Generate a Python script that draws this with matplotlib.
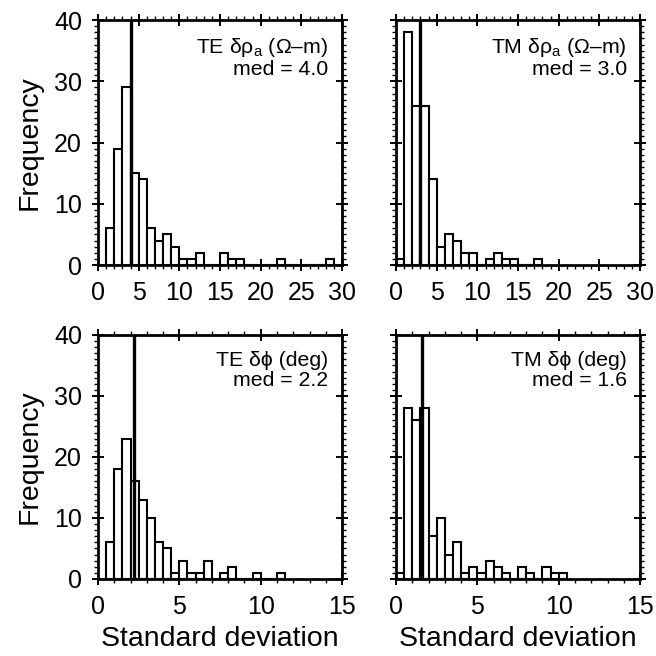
import numpy as np
import matplotlib
matplotlib.use("Agg")
import matplotlib.pyplot as plt
from matplotlib.ticker import MultipleLocator

plt.rcParams["font.family"] = ["Liberation Sans", "DejaVu Sans"]
plt.rcParams["mathtext.fontset"] = "custom"
plt.rcParams["mathtext.rm"] = "Liberation Sans"

# --- histogram counts ---
# resistivity panels: 1 Ohm-m bins starting at 0
te_rho_counts = [0, 6, 19, 29, 15, 14, 6, 4, 5, 3, 1, 1, 2, 0, 0, 2, 1, 1,
                 0, 0, 0, 0, 1, 0, 0, 0, 0, 0, 1, 0]
tm_rho_counts = [1, 38, 26, 26, 14, 3, 5, 4, 2, 2, 0, 1, 2, 1, 1, 0, 0, 1]
# phase panels: 0.5 deg bins starting at 0
te_phi_counts = [0, 6, 18, 23, 16, 13, 10, 6, 5, 1, 3, 1, 1, 3, 0, 1, 2, 0,
                 0, 1, 0, 0, 1]
tm_phi_counts = [1, 28, 26, 28, 7, 10, 4, 6, 1, 2, 1, 3, 2, 1, 0, 2, 1, 0,
                 2, 1, 1]

medians = [4.0, 3.0, 2.2, 1.6]
labels = ["TE δρ$_{\\mathrm{a}}$ (Ω–m)", "TM δρ$_{\\mathrm{a}}$ (Ω–m)",
          "TE δϕ (deg)", "TM δϕ (deg)"]

panels = [
    (te_rho_counts, 1.0, 30, [0.1494, 0.596, 0.372, 0.3735]),
    (tm_rho_counts, 1.0, 30, [0.6037, 0.596, 0.372, 0.3735]),
    (te_phi_counts, 0.5, 15, [0.1494, 0.1174, 0.372, 0.372]),
    (tm_phi_counts, 0.5, 15, [0.6037, 0.1174, 0.372, 0.372]),
]

fig = plt.figure(figsize=(6.56, 6.56), dpi=100)

for i, (counts, width, xmax, rect) in enumerate(panels):
    ax = fig.add_axes(rect)
    left = np.arange(len(counts)) * width
    ax.bar(left, counts, width=width, align="edge", color="white",
           edgecolor="black", linewidth=1.5, zorder=2)
    ax.axvline(medians[i], color="black", linewidth=2.4, zorder=3)

    ax.set_xlim(0, xmax)
    ax.set_ylim(0, 40)
    ax.xaxis.set_major_locator(MultipleLocator(5))
    ax.xaxis.set_minor_locator(MultipleLocator(1))
    ax.yaxis.set_major_locator(MultipleLocator(10))
    ax.yaxis.set_minor_locator(MultipleLocator(1))
    ax.tick_params(which="major", direction="inout", length=8, width=1.4,
                   top=True, right=True, labelsize=18, pad=7.5)
    ax.tick_params(which="minor", direction="out", length=3, width=1.0,
                   top=True, right=True)
    for s in ax.spines.values():
        s.set_linewidth(2.0)

    if i % 2 == 0:
        ax.set_ylabel("Frequency", fontsize=20.5, labelpad=8)
    else:
        ax.tick_params(labelleft=False)
    if i >= 2:
        ax.set_xlabel("Standard deviation", fontsize=20.5, labelpad=5)

    ax.text(0.945, 0.935, labels[i] + "\nmed = %.1f" % medians[i],
            transform=ax.transAxes, ha="right", va="top", fontsize=15.3,
            linespacing=1.1, multialignment="right", zorder=4)

fig.savefig("out.png", dpi=100)
